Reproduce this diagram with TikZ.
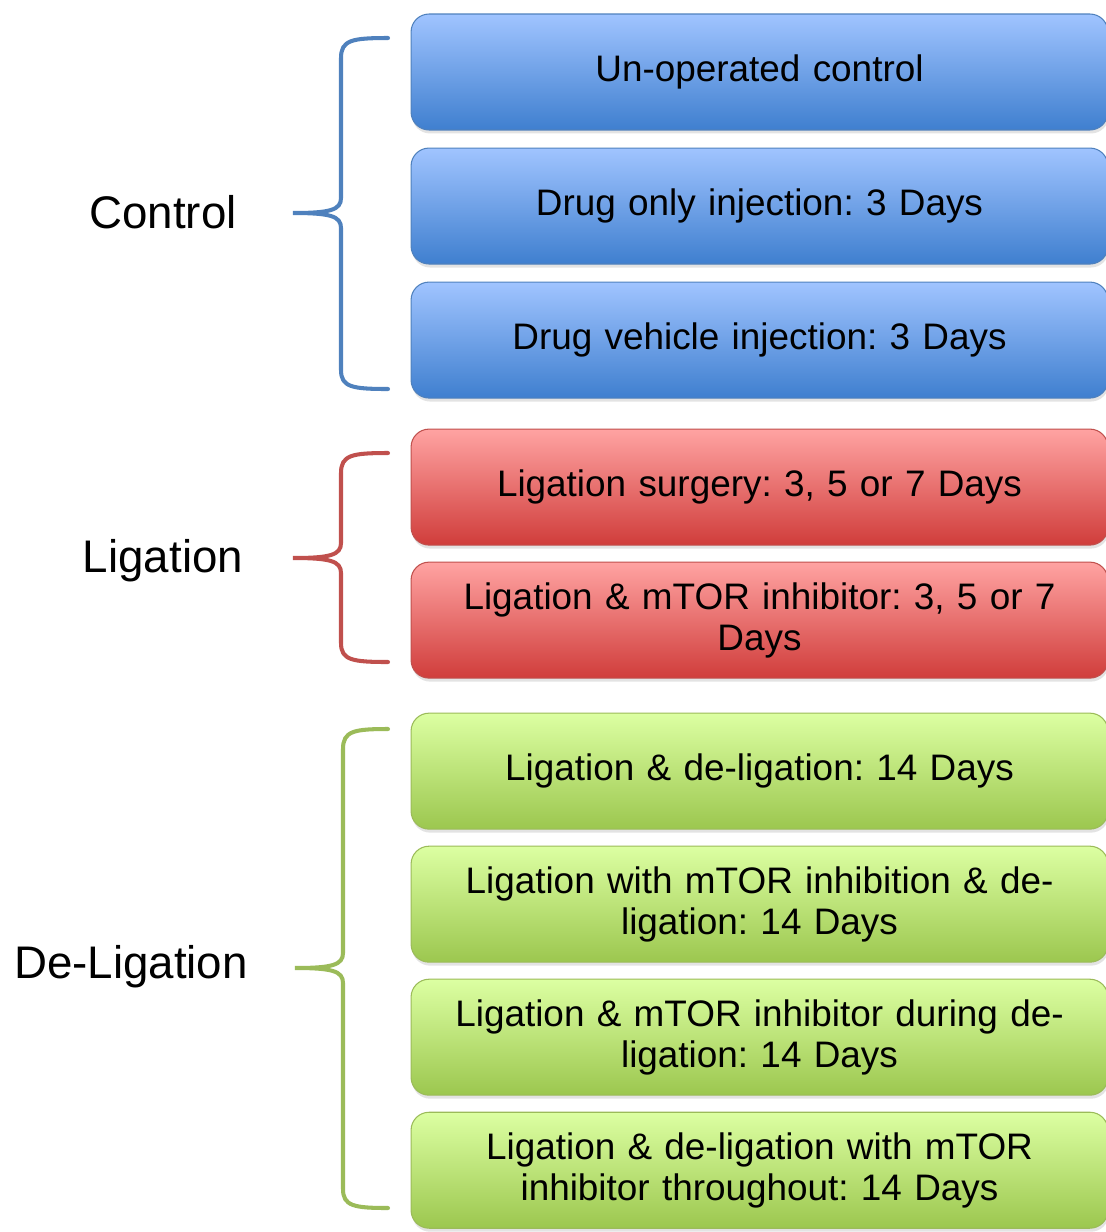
\documentclass[tikz,border=0pt]{standalone}
\usepackage{fontspec}
\setmainfont{Liberation Sans}
\frenchspacing
\usetikzlibrary{positioning, shadows}
\definecolor{blueTop}{HTML}{A0C4FF}
\definecolor{blueBot}{HTML}{3F7FCF}
\definecolor{blueLine}{HTML}{4F81BD}
\definecolor{redTop}{HTML}{FFA3A2}
\definecolor{redBot}{HTML}{D03D3B}
\definecolor{redLine}{HTML}{C0504D}
\definecolor{greenTop}{HTML}{DCFFA2}
\definecolor{greenBot}{HTML}{9CC74F}
\definecolor{greenLine}{HTML}{9BBB59}
\tikzstyle{group} = [rectangle, rounded corners=0.36cm, minimum width=13.94cm,
minimum height=2.32cm, text width=12.8cm, align=center, line width=0.6pt,
font=\fontsize{21}{23.2}\selectfont,
drop shadow={shadow xshift=0.02cm, shadow yshift=-0.07cm, opacity=0.22}]
\tikzstyle{control} = [group, draw=blueLine, top color=blueTop, bottom color=blueBot]
\tikzstyle{ligation} = [group, draw=redLine, top color=redTop, bottom color=redBot]
\tikzstyle{deligation} = [group, draw=greenLine, top color=greenTop, bottom color=greenBot]
\tikzstyle{label} = [font=\fontsize{26}{30}\selectfont]
\tikzstyle{brace} = [line width=2.3pt, line cap=round]

\begin{document}
\begin{tikzpicture}[x=0.02cm, y=-0.02cm]
\useasboundingbox (0,0) rectangle (1106,1232);

% boxes on the right
\node(uncontrol)[control] at (759.5,72){Un-operated control};
\node(drugonly)[control, below=0.34cm of uncontrol]{Drug only injection: 3 Days};
\node(vehicle)[control, below=0.34cm of drugonly]{Drug vehicle injection: 3 Days};
\node(surgery)[ligation, below=0.6cm of vehicle]{Ligation surgery: 3, 5 or 7 Days};
\node(ligmtor)[ligation, below=0.32cm of surgery]{Ligation \& mTOR inhibitor: 3, 5 or 7\\Days};
\node(delig)[deligation, below=0.68cm of ligmtor]{Ligation \& de-ligation: 14 Days};
\node(deligmtor)[deligation, below=0.32cm of delig]{Ligation with mTOR inhibition \& de-\\ligation: 14 Days};
\node(during)[deligation, below=0.32cm of deligmtor]{Ligation \& mTOR inhibitor during de-\\ligation: 14 Days};
\node(throughout)[deligation, below=0.32cm of during]{Ligation \& de-ligation with mTOR\\inhibitor throughout: 14 Days};

% group labels
\node(ctrlLabel)[label] at (163,212){Control};
\node(ligLabel)[label] at (163,561){Ligation};
\node(deligLabel)[label] at (131,967){De-Ligation};

% braces
\draw[brace, blueLine](388,38) .. controls (352,38) and (341,40) .. (341,58)
-- (341,198) .. controls (341,210) and (330,213) .. (293,213)
.. controls (330,213) and (341,216) .. (341,228)
-- (341,370) .. controls (341,387) and (352,389) .. (388,389);
\draw[brace, redLine](388,453) .. controls (352,453) and (341,455) .. (341,473)
-- (341,543) .. controls (341,555) and (330,558) .. (293,558)
.. controls (330,558) and (341,561) .. (341,573)
-- (341,643) .. controls (341,660) and (352,662) .. (388,662);
\draw[brace, greenLine](388,729) .. controls (354,729) and (343,731) .. (343,749)
-- (343,953) .. controls (343,965) and (332,968) .. (295,968)
.. controls (332,968) and (343,971) .. (343,983)
-- (343,1189) .. controls (343,1206) and (354,1208) .. (388,1208);

\end{tikzpicture}
\end{document}
